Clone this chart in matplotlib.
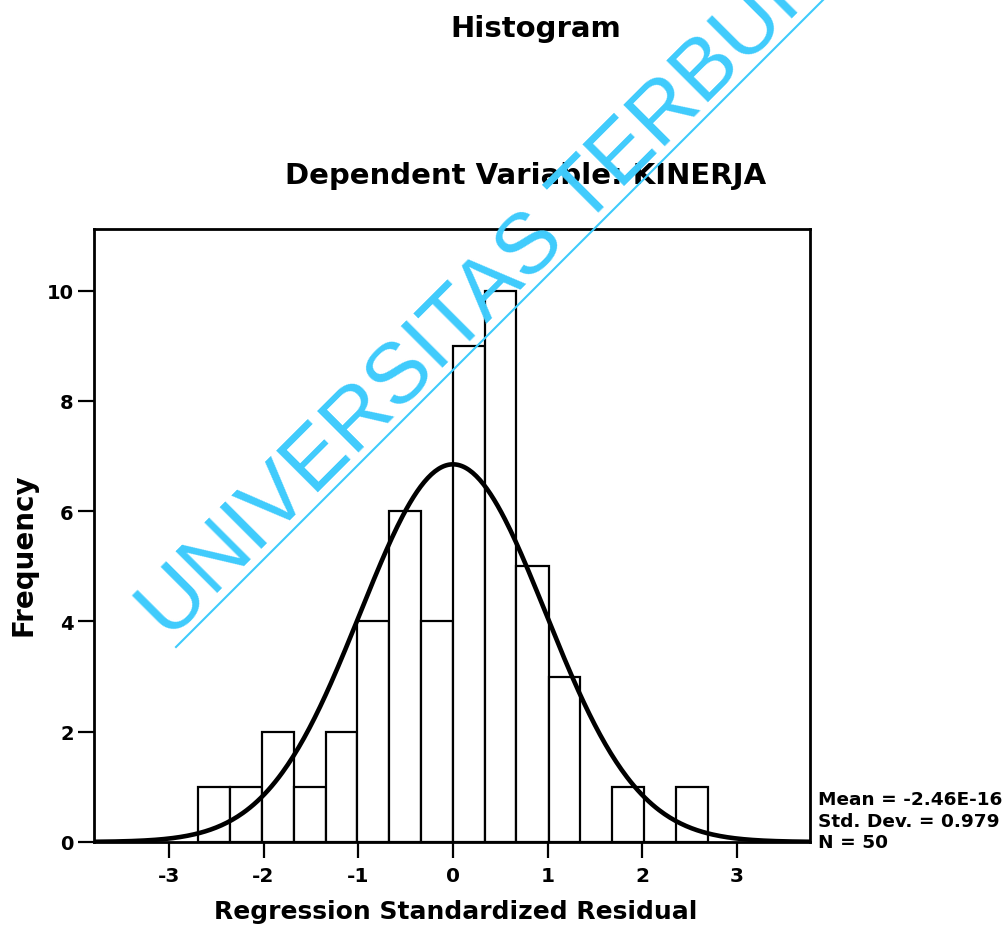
import numpy as np
import matplotlib.pyplot as plt
from matplotlib.lines import Line2D

# histogram of regression standardized residuals (SPSS output)
bin_edges = [-2.69, -2.35, -2.02, -1.68, -1.34, -1.01, -0.67, -0.34, 0.0,
             0.34, 0.67, 1.01, 1.34, 1.68, 2.02, 2.35, 2.69]
counts = [1, 1, 2, 1, 2, 4, 6, 4, 9, 10, 5, 3, 0, 1, 0, 1]
res_mean, res_std, res_n = -2.46e-16, 0.979, 50
x_ticks = [-3, -2, -1, 0, 1, 2, 3]
y_ticks = [0, 2, 4, 6, 8, 10]
stats_lines = ["Mean = -2.46E-16", "Std. Dev. = 0.979", "N = 50"]

W, H = 1008, 928
CYAN = "#3FCBFC"


def fx(px): return px / W
def fy(py): return 1 - py / H


fig = plt.figure(figsize=(W / 100, H / 100), dpi=100)
ax = fig.add_axes([fx(94), fy(843), fx(810) - fx(94), fy(230) - fy(843)])

edges = np.array(bin_edges)
ax.bar(edges[:-1], counts, width=np.diff(edges), align="edge",
       facecolor="white", edgecolor="black", lw=1.6, zorder=2)

bw = np.diff(edges).mean()
xs = np.linspace(-3.79, 3.77, 400)
pdf = np.exp(-0.5 * ((xs - res_mean) / res_std) ** 2) / (res_std * np.sqrt(2 * np.pi))
ax.plot(xs, res_n * bw * pdf, color="black", lw=3.3, zorder=3)

ax.set_xlim(-3.79, 3.77); ax.set_ylim(0, 11.12)
ax.set_xticks(x_ticks); ax.set_yticks(y_ticks)
ax.set_xticklabels([str(t) for t in x_ticks], fontsize=14.5, fontweight="bold")
ax.set_yticklabels([str(t) for t in y_ticks], fontsize=14, fontweight="bold")
ax.tick_params(axis="x", length=11.5, width=1.6, pad=6)
ax.tick_params(axis="y", length=11.5, width=1.6, pad=3)
for s in ax.spines.values():
    s.set_linewidth(2.0)

ax.set_xlabel("Regression Standardized Residual", fontsize=18, fontweight="bold", va="baseline")
ax.xaxis.set_label_coords((456 - 94) / (810 - 94), (843 - 919) / (843 - 230))
ax.set_ylabel("Frequency", fontsize=20, fontweight="bold")
ax.yaxis.set_label_coords((37 - 94) / (810 - 94), (843 - 555) / (843 - 230))

fig.text(fx(536), fy(37), "Histogram", fontsize=21, fontweight="bold",
         ha="center", va="baseline")
fig.text(fx(526), fy(184), "Dependent Variable: KINERJA", fontsize=21,
         fontweight="bold", ha="center", va="baseline")

for i, line in enumerate(stats_lines):
    fig.text(fx(818), fy(805 + 21.7 * i), line, fontsize=13.3, fontweight="bold",
             ha="left", va="baseline")

# watermark
fig.text(fx(169), fy(641), "UNIVERSITAS TERBUKA", family="Liberation Sans",
         fontsize=61.5, color=CYAN, rotation=45, rotation_mode="anchor",
         ha="left", va="baseline", zorder=10)
fig.add_artist(Line2D([fx(176), fx(176 + 660)], [fy(648), fy(648 - 660)],
                      color=CYAN, lw=1.5, zorder=10))

fig.savefig("out.png", dpi=100)
